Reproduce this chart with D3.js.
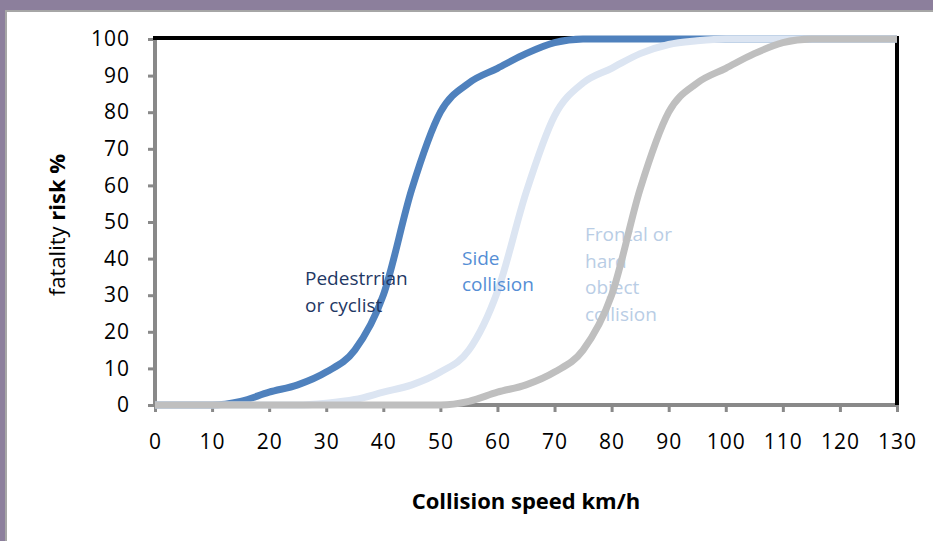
<!DOCTYPE html>
<html>
<head>
<meta charset="utf-8">
<script src="https://cdn.jsdelivr.net/npm/d3@7"></script>
<style>
  html, body { margin: 0; padding: 0; background: #fff; }
  svg { display: block; }
  text { font-family: "Open Sans", "Noto Sans", sans-serif; }
</style>
</head>
<body>
<svg id="chart" width="933" height="541"></svg>
<script>
// ---- data ----
const speeds = [0,5,10,15,20,25,30,35,40,45,50,55,60,65,70,75,80,85,90,95,100,105,110,115,120,125,130];
const pedestrian = [0,0,0,1,3.5,5.5,9,15,30,59,80,88,92,96,99,100,100,100,100,100,100,100,100,100,100,100,100];
const sideCollision = [0,0,0,0,0,0,0.5,1.5,3.5,5.5,9,15,31,58,79,88,92,96,98.5,99.5,100,100,100,100,100,100,100];
const frontalCollision = [0,0,0,0,0,0,0,0,0,0,0,1,3.5,5.5,9,15,30,59,80,88,92,96,99,100,100,100,100];
const xTicks = [0,10,20,30,40,50,60,70,80,90,100,110,120,130];
const yTicks = [0,10,20,30,40,50,60,70,80,90,100];
const xTitle = "Collision speed km/h";
const yTitleNormal = "fatality ";
const yTitleBold = "risk %";
const labelPed = ["Pedestrrian", "or cyclist"];
const labelSide = ["Side", "collision"];
const labelFrontal = ["Frontal or", "hard", "object", "collision"];

const svg = d3.select("#chart");
const W = 933, H = 541;

// frame
svg.append("rect").attr("x",0).attr("y",0).attr("width",W).attr("height",H).attr("fill","#8c7f9c");
svg.append("rect").attr("x",5).attr("y",10).attr("width",W-5).attr("height",H-10).attr("fill","#a6a6a6");
svg.append("rect").attr("x",7).attr("y",12).attr("width",W-7).attr("height",H-12).attr("fill","#ffffff");

const x = d3.scaleLinear().domain([0,130]).range([155,897]);
const y = d3.scaleLinear().domain([0,100]).range([405,39]);

// y axis
const yAxis = svg.append("g").attr("transform","translate(155,0)")
  .call(d3.axisLeft(y).tickValues(yTicks).tickSize(7).tickPadding(18));
yAxis.select(".domain").attr("stroke","#898989").attr("stroke-width",4).attr("d","M0,39V407");
yAxis.selectAll(".tick line").attr("stroke","#898989").attr("stroke-width",3);
yAxis.selectAll(".tick text").attr("font-size",21).attr("fill","#000").attr("font-family","Open Sans").attr("letter-spacing",1);

// x axis
const xAxis = svg.append("g").attr("transform","translate(0,405)")
  .call(d3.axisBottom(x).tickValues(xTicks).tickSize(7).tickPadding(22));
xAxis.select(".domain").attr("stroke","#898989").attr("stroke-width",4).attr("d","M153,0H897");
xAxis.selectAll(".tick line").attr("stroke","#898989").attr("stroke-width",3);
xAxis.selectAll(".tick text").attr("font-size",21).attr("fill","#000").attr("font-family","Open Sans").attr("letter-spacing",1);

// top & right borders
svg.append("line").attr("x1",153).attr("x2",899).attr("y1",y(100)-1).attr("y2",y(100)-1)
  .attr("stroke","#000").attr("stroke-width",4);
svg.append("line").attr("x1",x(130)).attr("x2",x(130)).attr("y1",y(100)-3).attr("y2",y(0))
  .attr("stroke","#000").attr("stroke-width",4);

function addLabel(lines, x0, y0, dy, color) {
  const t = svg.append("text").attr("font-size",19).attr("fill",color).attr("font-family","Open Sans");
  lines.forEach((s,i) => t.append("tspan").attr("x",x0).attr("y",y0 + i*dy).text(s));
}
// frontal label sits below the curves
addLabel(labelFrontal, 585, 241, 26.5, "#b9cde5");

const line = d3.line().x((d,i) => x(speeds[i])).y(d => y(d)).curve(d3.curveMonotoneX);
const series = [
  {v: pedestrian, c: "#4f81bd", w: 7},
  {v: sideCollision, c: "#dce5f2", w: 7},
  {v: frontalCollision, c: "#bfbfbf", w: 7}
];
series.forEach(s => {
  svg.append("path").datum(s.v).attr("d", line).attr("fill","none")
    .attr("stroke", s.c).attr("stroke-width", s.w).attr("stroke-linejoin","round");
});

addLabel(labelPed, 305, 285, 27, "#1f3864");
addLabel(labelSide, 462, 265, 26, "#558ed5");

// axis titles
svg.append("text").attr("x",526).attr("y",509).attr("text-anchor","middle")
  .attr("font-size",22).attr("font-weight","bold").attr("fill","#000").text(xTitle);
const yt = svg.append("text").attr("transform","translate(65,225) rotate(-90)")
  .attr("text-anchor","middle").attr("font-size",22).attr("fill","#000");
yt.append("tspan").text(yTitleNormal);
yt.append("tspan").attr("font-weight","bold").text(yTitleBold);
</script>
</body>
</html>
